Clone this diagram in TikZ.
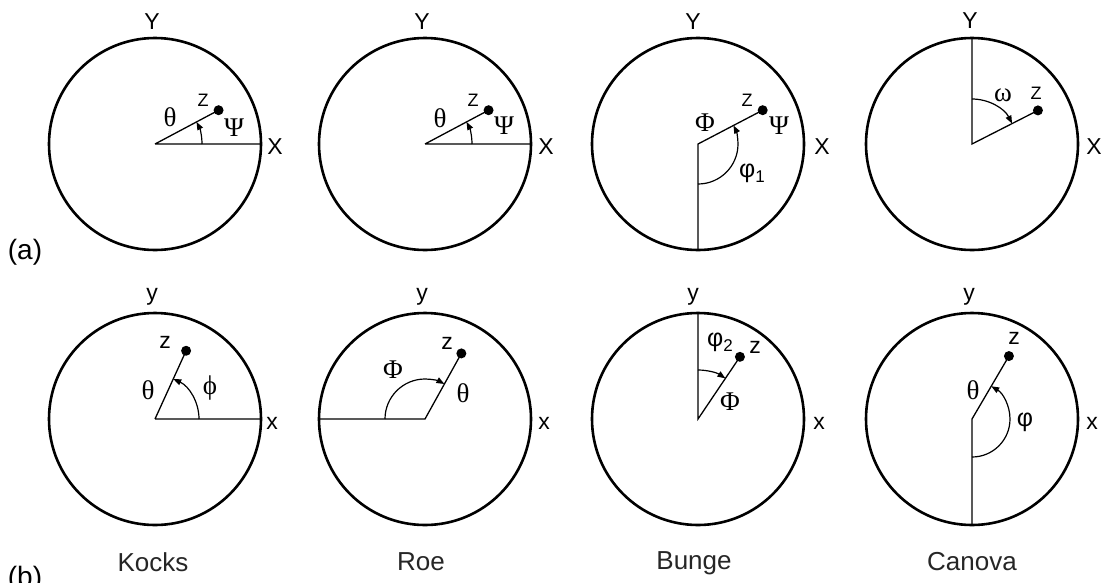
\documentclass[tikz,border=0pt]{standalone}
\usepackage{fontspec}
\setmainfont{Liberation Sans}
\newfontfamily\grk{Liberation Serif}
\usetikzlibrary{arrows.meta,calc}

\tikzset{
  rim/.style={line width=2.6pt},
  ray/.style={line width=1.3pt},
  turn/.style={line width=1.2pt,-{Triangle[length=8pt,width=6pt]}},
  pnt/.style={circle,fill=black,inner sep=0pt,minimum size=10pt},
  axlbl/.style={inner sep=0pt,font=\fontsize{23}{23}\selectfont},
  capz/.style={inner sep=0pt,font=\fontsize{18}{18}\selectfont},
  lowz/.style={inner sep=0pt,font=\fontsize{23}{23}\selectfont},
  anglbl/.style={inner sep=0pt,font=\grk\fontsize{27}{27}\selectfont},
  philbl/.style={inner sep=0pt,font=\fontsize{25}{25}\selectfont},
  namelbl/.style={inner sep=0pt,text=black!85,font=\fontsize{26}{26}\selectfont},
  partlbl/.style={inner sep=0pt,font=\fontsize{28}{28}\selectfont},
}

\begin{document}
\begin{tikzpicture}[x=1pt,y=1pt]
\useasboundingbox (0,0) rectangle (1101,-582);

\coordinate (Oa1) at (155,-144);
\coordinate (Oa2) at (425,-144);
\coordinate (Oa3) at (698,-144);
\coordinate (Oa4) at (972,-144);
\coordinate (Ob1) at (155,-419);
\coordinate (Ob2) at (425,-419);
\coordinate (Ob3) at (698,-419);
\coordinate (Ob4) at (972,-419);

\coordinate (Ea1) at ($(Oa1)+(106,0)$);
\coordinate (Ea2) at ($(Oa2)+(106,0)$);
\coordinate (Ea3) at ($(Oa3)+(0,-106)$);
\coordinate (Ea4) at ($(Oa4)+(0,106)$);
\coordinate (Eb1) at ($(Ob1)+(106,0)$);
\coordinate (Eb2) at ($(Ob2)+(-106,0)$);
\coordinate (Eb3) at ($(Ob3)+(0,106)$);
\coordinate (Eb4) at ($(Ob4)+(0,-106)$);

\foreach \c in {Oa1,Oa2,Oa3,Oa4,Ob1,Ob2,Ob3,Ob4}
  \draw[rim] (\c) circle[radius=106];

\node[pnt] (Za1) at ($(Oa1)+(28:72)$) {};
\node[pnt] (Za2) at ($(Oa2)+(28:72)$) {};
\node[pnt] (Za3) at ($(Oa3)+(27.6:73)$) {};
\node[pnt] (Za4) at ($(Oa4)+(27:74)$) {};
\node[pnt] (Zb1) at ($(Ob1)+(65.5:75)$) {};
\node[pnt] (Zb2) at ($(Ob2)+(61:75)$) {};
\node[pnt] (Zb3) at ($(Ob3)+(56:75)$) {};
\node[pnt] (Zb4) at ($(Ob4)+(59.6:73)$) {};

\draw[ray] (Oa1) -- (Ea1) (Oa1) -- (Za1.center);
\draw[ray] (Oa2) -- (Ea2) (Oa2) -- (Za2.center);
\draw[ray] (Ea3) -- (Oa3) -- (Za3.center);
\draw[ray] (Ea4) -- (Oa4) -- (Za4.center);
\draw[ray] (Ob1) -- (Eb1) (Ob1) -- (Zb1.center);
\draw[ray] (Eb2) -- (Ob2) -- (Zb2.center);
\draw[ray] (Eb3) -- (Ob3) -- (Zb3.center);
\draw[ray] (Eb4) -- (Ob4) -- (Zb4.center);

\draw[turn] ($(Oa1)+(0:47)$) arc[start angle=0,end angle=28,radius=47];
\draw[turn] ($(Oa2)+(0:47)$) arc[start angle=0,end angle=28,radius=47];
\draw[turn] ($(Oa3)+(-90:40)$) arc[start angle=-90,end angle=27.6,radius=40];
\draw[turn] ($(Oa4)+(90:45)$) arc[start angle=90,end angle=27,radius=45];
\draw[turn] ($(Ob1)+(0:44)$) arc[start angle=0,end angle=65.5,radius=44];
\draw[turn] ($(Ob2)+(180:40)$) arc[start angle=180,end angle=61,radius=40];
\draw[turn] ($(Ob3)+(90:49)$) arc[start angle=90,end angle=56,radius=49];
\draw[turn] ($(Ob4)+(-90:38)$) arc[start angle=-90,end angle=59.6,radius=38];

\node[axlbl] (Ya1) at (152,-22) {Y};
\node[axlbl] (Xa1) at (275,-147) {X};
\node[capz] (za1) at (203,-100) {Z};
\node[anglbl] (ta1) at (170,-117) {θ};
\node[anglbl] (pa1) at (234,-128) {Ψ};

\node[axlbl] (Ya2) at (422,-22) {Y};
\node[axlbl] (Xa2) at (546,-147) {X};
\node[capz] (za2) at (473,-100) {Z};
\node[anglbl] (ta2) at (440,-118) {θ};
\node[anglbl] (pa2) at (504,-126) {Ψ};

\node[axlbl] (Ya3) at (693,-22) {Y};
\node[axlbl] (Xa3) at (822,-147) {X};
\node[capz] (za3) at (747,-100) {Z};
\node[anglbl] (fa3) at (705,-123) {Φ};
\node[anglbl] (pa3) at (779,-126) {Ψ};
\node[philbl] (qa3) at (752,-173) {φ\raisebox{-5pt}{\fontsize{17}{17}\selectfont 1}};

\node[axlbl] (Ya4) at (970,-21) {Y};
\node[axlbl] (Xa4) at (1094,-147) {X};
\node[capz] (za4) at (1036,-93) {Z};
\node[anglbl] (wa4) at (1003,-95) {ω};

\node[axlbl] (yb1) at (152,-297) {y};
\node[axlbl] (xb1) at (272,-423) {x};
\node[lowz] (zb1) at (165,-342) {z};
\node[anglbl] (tb1) at (148,-390) {θ};
\node[anglbl] (pb1) at (210,-388) {ϕ};

\node[axlbl] (yb2) at (422,-297) {y};
\node[axlbl] (xb2) at (544,-423) {x};
\node[lowz] (zb2) at (447,-343) {z};
\node[anglbl] (fb2) at (393,-370) {Φ};
\node[anglbl] (tb2) at (463,-393) {θ};

\node[axlbl] (yb3) at (693,-297) {y};
\node[axlbl] (xb3) at (819,-423) {x};
\node[lowz] (zb3) at (755,-347) {z};
\node[anglbl] (fb3) at (730,-402) {Φ};
\node[philbl] (qb3) at (720,-342) {φ\raisebox{-5pt}{\fontsize{17}{17}\selectfont 2}};

\node[axlbl] (yb4) at (969,-297) {y};
\node[axlbl] (xb4) at (1092,-423) {x};
\node[lowz] (zb4) at (1014,-338) {z};
\node[anglbl] (tb4) at (973,-390) {θ};
\node[philbl] (pb4) at (1025,-422) {φ};

\node[namelbl] (Kocks) at (153,-562) {Kocks};
\node[namelbl] (Roe) at (421,-562) {Roe};
\node[namelbl] (Bunge) at (694,-563) {Bunge};
\node[namelbl] (Canova) at (972,-562) {Canova};

\node[partlbl] (parta) at (25,-252) {(a)};
\node[partlbl] (partb) at (25,-579) {(b)};
\end{tikzpicture}
\end{document}
